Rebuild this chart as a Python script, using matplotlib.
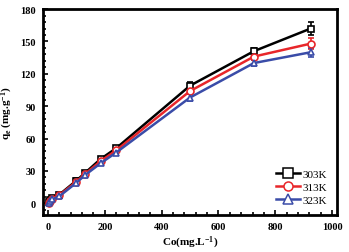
import matplotlib
matplotlib.use('Agg')
from matplotlib import pyplot as plt
from matplotlib.ticker import MultipleLocator
from matplotlib.lines import Line2D

co = [2, 8, 15, 40, 100, 130, 185, 240, 500, 725, 925]
q_303 = [1, 3, 5, 8, 21, 28, 41, 51, 109, 141, 162]
q_313 = [0.5, 2.5, 4, 7.5, 20, 27, 39, 49, 104, 136, 148]
q_323 = [0, 2, 3.5, 6.5, 19, 26, 37, 47, 98, 130, 140]
err_303 = [1, 1, 1, 1, 2, 2, 2, 2, 3, 3, 6]
err_313 = [1, 1, 1, 1, 2, 2, 2, 2, 3, 3, 5]
err_323 = [1, 1, 1, 1, 2, 2, 2, 2, 3, 3, 4]
labels = ['303K', '313K', '323K']

plt.rcParams['font.family'] = 'Liberation Serif'
plt.rcParams['font.weight'] = 'bold'
plt.rcParams['mathtext.fontset'] = 'custom'
plt.rcParams['mathtext.rm'] = 'Liberation Serif:bold'
plt.rcParams['mathtext.it'] = 'Liberation Serif:bold'
plt.rcParams['mathtext.bf'] = 'Liberation Serif:bold'
plt.rcParams['mathtext.default'] = 'rm'

fig = plt.figure(figsize=(3.49, 2.53), dpi=100)
ax = fig.add_axes([0.123, 0.146, 0.843, 0.814])

series = [(q_303, err_303, 'black', 's'),
          (q_313, err_313, '#e8262a', 'o'),
          (q_323, err_323, '#3a4ca8', '^')]
handles = []
for (q, e, c, m), lab in zip(series, labels):
    ax.errorbar(co, q, yerr=e, color=c, marker=m, markersize=5,
                markerfacecolor='white', markeredgecolor=c, markeredgewidth=1.2,
                linewidth=1.8, elinewidth=1.2, capsize=2)
    handles.append(Line2D([], [], color=c, marker=m, markersize=6.5,
                          markerfacecolor='white', markeredgewidth=1.1,
                          linewidth=1.8, label=lab))

ax.set_xlim(-18, 1018)
ax.set_ylim(-11, 180)
ax.set_xticks(range(0, 1001, 200))
ax.set_yticks(range(0, 181, 30))
ax.xaxis.set_minor_locator(MultipleLocator(40))
ax.yaxis.set_minor_locator(MultipleLocator(6))
ax.tick_params(which='both', direction='in', width=1.2, labelsize=7.5, pad=5)
ax.tick_params(which='major', length=3.5)
ax.tick_params(which='minor', length=2)
for s in ax.spines.values():
    s.set_linewidth(2)
for t in ax.get_xticklabels() + ax.get_yticklabels():
    t.set_fontweight('bold')

ax.set_xlabel('Co(mg.L$^{-1}$)', fontsize=8, fontweight='bold', labelpad=2)
ax.set_ylabel('q$_e$ (mg.g$^{-1}$)', fontsize=8, fontweight='bold')

ax.legend(handles=handles, loc='lower right', frameon=False,
          prop={'family': 'Liberation Serif', 'weight': 'normal', 'size': 8},
          handlelength=2.2, handletextpad=0.2, labelspacing=0.3,
          borderaxespad=0.5)

plt.savefig('out.png', dpi=100)
